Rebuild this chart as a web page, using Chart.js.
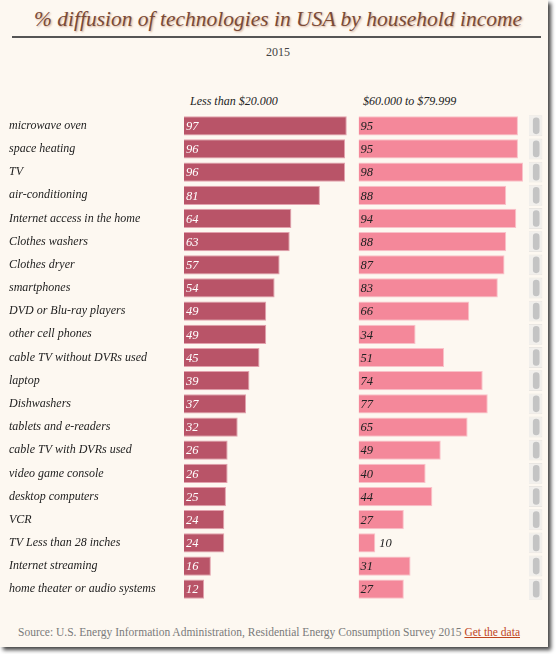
<!DOCTYPE html>
<html>
<head>
  <meta charset="UTF-8">
  <title>% diffusion of technologies in USA by household income</title>
  <script src="https://cdn.jsdelivr.net/npm/chart.js"></script>
  <style>
    html, body {
      margin: 0;
      padding: 0;
      background: #fff;
      width: 556px;
      height: 654px;
      overflow: hidden;
    }
    .frame {
      position: absolute;
      left: 0;
      top: 0;
      width: 548px;
      height: 647px;
      background: #fdf8f1;
      box-shadow: 3px 3px 4px #444;
    }
    .title {
      position: absolute;
      left: 0;
      width: 556px;
      top: 7px;
      text-align: center;
      white-space: nowrap;
      font-family: "Liberation Serif", serif;
      font-style: italic;
      font-size: 21.5px;
      color: #7a4a36;
      text-shadow: 1px 1px 2px #d2a991;
    }
    .rule {
      position: absolute;
      left: 12px;
      width: 529px;
      top: 36px;
      height: 2px;
      background: #555;
    }
    .sub {
      position: absolute;
      left: 0;
      width: 556px;
      top: 45px;
      text-align: center;
      font-family: "Liberation Serif", serif;
      font-size: 12px;
      color: #444;
    }
    .head {
      position: absolute;
      top: 94px;
      font-family: "Liberation Serif", serif;
      font-style: italic;
      font-size: 12px;
      color: #222;
    }
    .source {
      position: absolute;
      left: 18px;
      top: 626px;
      font-family: "Liberation Serif", serif;
      font-size: 11.5px;
      color: #7a7a7a;
    }
    .source a {
      color: #c0461e;
      text-decoration: underline;
    }
    #chartBox {
      position: absolute;
      left: 0;
      top: 104px;
      width: 556px;
      height: 507px;
    }
  </style>
</head>
<body>
  <div class="frame"></div>
  <div class="title">% diffusion of technologies in USA by household income</div>
  <div class="rule"></div>
  <div class="sub">2015</div>
  <div class="head" style="left:190px">Less than $20.000</div>
  <div class="head" style="left:363px">$60.000 to $79.999</div>

  <div id="chartBox"><canvas id="diffusion"></canvas></div>

  <div class="source">Source: U.S. Energy Information Administration, Residential Energy Consumption Survey 2015 <a>Get the data</a></div>

  <script>
    const technologies = [
      "microwave oven", "space heating", "TV", "air-conditioning",
      "Internet access in the home", "Clothes washers", "Clothes dryer",
      "smartphones", "DVD or Blu-ray players", "other cell phones",
      "cable TV without DVRs used", "laptop", "Dishwashers",
      "tablets and e-readers", "cable TV with DVRs used",
      "video game console", "desktop computers", "VCR",
      "TV Less than 28 inches", "Internet streaming",
      "home theater or audio systems"
    ];
    const lowIncome = [97, 96, 96, 81, 64, 63, 57, 54, 49, 49, 45, 39, 37, 32, 26, 26, 25, 24, 24, 16, 12];
    const midIncome = [95, 95, 98, 88, 94, 88, 87, 83, 66, 34, 51, 74, 77, 65, 49, 40, 44, 27, 10, 31, 27];
    const seriesNames = ["Less than $20.000", "$60.000 to $79.999"];

    // the grey per-row "scroll" stubs on the right edge
    const stubTrack = technologies.map(() => [0.05, 0.80]);
    const stubThumb = technologies.map(() => [0.27, 0.64]);

    const valueLabels = {
      id: "valueLabels",
      afterDatasetsDraw(chart) {
        const ctx = chart.ctx;
        ctx.save();
        ctx.font = "italic 12.5px 'Liberation Serif', serif";
        ctx.textBaseline = "middle";
        ctx.textAlign = "left";
        [0, 1].forEach(di => {
          const meta = chart.getDatasetMeta(di);
          const values = chart.data.datasets[di].data;
          meta.data.forEach((bar, i) => {
            const txt = String(values[i]);
            const w = ctx.measureText(txt).width;
            const barW = bar.x - bar.base;
            if (barW < w + 6) {
              ctx.fillStyle = "#222";
              ctx.fillText(txt, bar.x + 4, bar.y + 1);
            } else {
              ctx.fillStyle = di === 0 ? "#fff" : "#222";
              ctx.fillText(txt, bar.base + 2, bar.y + 1);
            }
          });
        });
        ctx.restore();
      }
    };

    new Chart(document.getElementById("diffusion"), {
      type: "bar",
      data: {
        labels: technologies,
        datasets: [
          {
            label: seriesNames[0],
            data: lowIncome,
            xAxisID: "x1",
            backgroundColor: "#b95468",
            borderColor: "#e2a1ad",
            borderWidth: 1,
            grouped: false,
            barPercentage: 1,
            categoryPercentage: 0.83
          },
          {
            label: seriesNames[1],
            data: midIncome,
            xAxisID: "x2",
            backgroundColor: "#f4889a",
            borderColor: "#f9c1c9",
            borderWidth: 1,
            grouped: false,
            barPercentage: 1,
            categoryPercentage: 0.83
          },
          {
            label: "thumb",
            data: stubThumb,
            xAxisID: "x3",
            backgroundColor: "#c4c4c4",
            borderRadius: 4,
            borderSkipped: false,
            grouped: false,
            barPercentage: 1,
            categoryPercentage: 0.72
          },
          {
            label: "track",
            data: stubTrack,
            xAxisID: "x3",
            backgroundColor: "#f1efec",
            borderColor: "#e9e6e2",
            borderWidth: 1,
            grouped: false,
            barPercentage: 1,
            categoryPercentage: 0.9
          }
        ]
      },
      options: {
        indexAxis: "y",
        responsive: true,
        maintainAspectRatio: false,
        animation: false,
        layout: { padding: { left: 9, right: 10, top: 0, bottom: 0 } },
        plugins: {
          legend: { display: false },
          tooltip: { enabled: false }
        },
        scales: {
          y: {
            grid: { display: false },
            border: { display: false },
            ticks: {
              crossAlign: "far",
              color: "#222",
              font: { family: "'Liberation Serif', serif", style: "italic", size: 12 }
            },
            afterFit(scale) { scale.width = 175; }
          },
          x1: {
            type: "linear", position: "bottom", stack: "panels", stackWeight: 174.7,
            min: 0, max: 104, display: false
          },
          x2: {
            type: "linear", position: "bottom", stack: "panels", stackWeight: 169.7,
            min: 0, max: 101, display: false
          },
          x3: {
            type: "linear", position: "bottom", stack: "panels", stackWeight: 18,
            min: 0, max: 1, display: false
          }
        }
      },
      plugins: [valueLabels]
    });
  </script>
</body>
</html>
